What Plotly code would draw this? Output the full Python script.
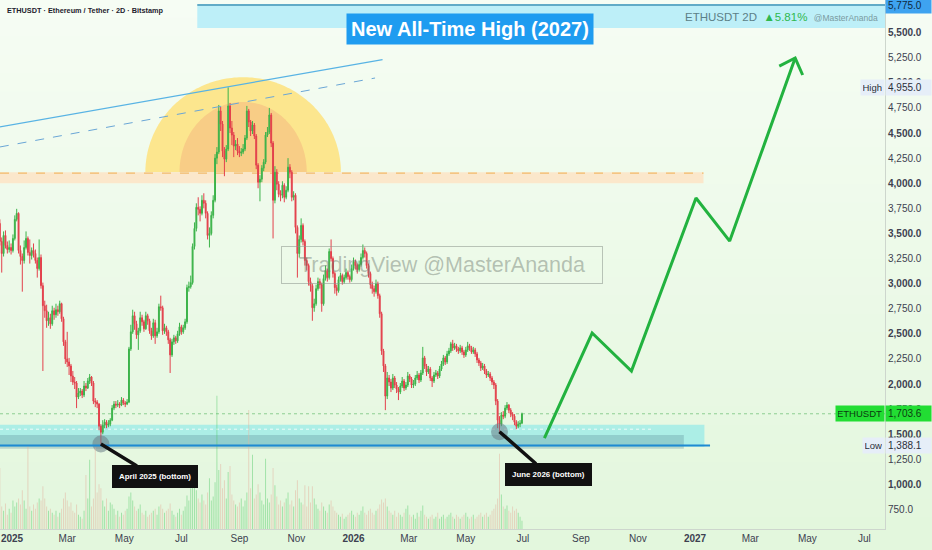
import numpy as np
import pandas as pd
import plotly.graph_objects as go

# ---------------- data (2D candles, ETHUSDT Bitstamp) ----------------
start_date = "2024-12-19"

opens = [3600, 3420, 3300, 3480, 3380, 3340, 3360, 3330, 3450, 3640,
         3700, 3330, 3270, 3230, 3360, 3450, 3310, 3280, 3330, 3300,
         3230, 3150, 3260, 2980, 2780, 2730, 2630, 2660, 2600, 2730,
         2690, 2740, 2720, 2800, 2650, 2420, 2250, 2220, 2180, 2080,
         2020, 2010, 1870, 1910, 1930, 1890, 1980, 1960, 2030, 2070,
         2010, 1830, 1820, 1800, 1580, 1520, 1590, 1620, 1590, 1600,
         1640, 1760, 1800, 1790, 1800, 1790, 1840, 1810, 1800, 1820,
         2350, 2520, 2680, 2600, 2490, 2530, 2660, 2620, 2550, 2680,
         2630, 2530, 2480, 2610, 2480, 2520, 2770, 2760, 2530, 2560,
         2520, 2440, 2290, 2420, 2460, 2430, 2500, 2570, 2520, 2560,
         2620, 2960, 2970, 3010, 3370, 3550, 3760, 3740, 3700, 3830,
         3800, 3700, 3480, 3500, 3680, 3830, 4250, 4310, 4720, 4590,
         4320, 4240, 4340, 4770, 4550, 4480, 4370, 4390, 4320, 4300,
         4310, 4340, 4450, 4720, 4610, 4520, 4580, 4470, 4180, 4010,
         4040, 4150, 4210, 4480, 4510, 4680, 4400, 3830, 4110, 3990,
         3890, 3880, 3980, 3860, 3930, 4160, 4110, 3860, 3880, 3560,
         3300, 3440, 3580, 3420, 3230, 3180, 3020, 2980, 2760, 2800,
         2950, 3020, 2990, 2800, 3050, 3130, 3060, 3320, 3250, 3100,
         2960, 2930, 3040, 3080, 3020, 3060, 3110, 3070, 3040, 3150,
         3220, 3180, 3140, 3190, 3260, 3330, 3300, 3180, 3100, 2990,
         2950, 2920, 3000, 2880, 2700, 2330, 2180, 1880, 2060, 2020,
         1960, 2060, 1990, 1950, 1920, 1980, 2030, 1960, 1990, 2080,
         2050, 1990, 2000, 2060, 2090, 2040, 2110, 2260, 2180, 2120,
         2150, 2060, 2030, 2090, 2110, 2080, 2150, 2200, 2260, 2220,
         2300, 2330, 2400, 2360, 2380, 2350, 2330, 2360, 2320, 2290,
         2340, 2380, 2360, 2320, 2340, 2300, 2240, 2210, 2160, 2180,
         2130, 2090, 2100, 2060, 2020, 1990, 1830, 1640, 1600, 1690,
         1680, 1760, 1790, 1740, 1700, 1680, 1620, 1580, 1600, 1610.1]

highs = [3640, 3460, 3520, 3530, 3420, 3430, 3400, 3490, 3680, 3745,
         3710, 3380, 3300, 3430, 3520, 3470, 3440, 3360, 3400, 3340,
         3260, 3440, 3290, 3010, 2830, 2790, 2720, 2700, 2780, 2760,
         2800, 2780, 2830, 2810, 2670, 2440, 2520, 2260, 2200, 2130,
         2070, 2030, 1960, 1960, 1950, 2030, 2010, 2060, 2100, 2080,
         2030, 1860, 1840, 1810, 1600, 1640, 1650, 1640, 1640, 1660,
         1790, 1830, 1830, 1840, 1820, 1870, 1860, 1830, 1850, 2370,
         2590, 2740, 2720, 2630, 2560, 2720, 2690, 2640, 2720, 2700,
         2650, 2560, 2650, 2640, 2560, 2800, 2880, 2780, 2600, 2580,
         2540, 2460, 2450, 2490, 2480, 2530, 2610, 2590, 2590, 2650,
         2990, 3020, 3080, 3400, 3610, 3800, 3860, 3770, 3880, 3900,
         3830, 3720, 3560, 3720, 3880, 4290, 4360, 4780, 4760, 4620,
         4360, 4380, 4955, 4800, 4620, 4510, 4430, 4450, 4370, 4350,
         4390, 4480, 4770, 4740, 4630, 4620, 4600, 4490, 4200, 4080,
         4180, 4240, 4510, 4560, 4750, 4700, 4420, 4170, 4140, 4020,
         3930, 4020, 4000, 3970, 4250, 4190, 4130, 3920, 3900, 3580,
         3480, 3650, 3600, 3440, 3260, 3200, 3060, 3000, 2850, 2990,
         3060, 3050, 3010, 3090, 3180, 3150, 3350, 3440, 3270, 3120,
         2990, 3070, 3110, 3100, 3090, 3150, 3130, 3090, 3190, 3260,
         3240, 3200, 3230, 3300, 3390, 3360, 3320, 3200, 3120, 3020,
         2980, 3040, 3020, 2900, 2720, 2350, 2200, 2120, 2090, 2050,
         2100, 2080, 2020, 1970, 2010, 2070, 2050, 2020, 2120, 2100,
         2070, 2040, 2090, 2130, 2110, 2140, 2370, 2280, 2200, 2180,
         2170, 2080, 2120, 2140, 2130, 2180, 2230, 2290, 2280, 2330,
         2360, 2420, 2440, 2410, 2400, 2370, 2390, 2380, 2340, 2370,
         2420, 2400, 2380, 2370, 2360, 2320, 2260, 2230, 2210, 2200,
         2150, 2130, 2120, 2080, 2040, 2010, 1850, 1680, 1720, 1730,
         1790, 1820, 1800, 1760, 1720, 1700, 1640, 1630, 1640, 1715]

lows = [3380, 3110, 3270, 3350, 3300, 3310, 3290, 3310, 3430, 3620,
        3300, 3190, 2920, 3200, 3340, 3280, 3200, 3240, 3260, 3200,
        3060, 3130, 2950, 2130, 2660, 2560, 2580, 2550, 2580, 2640,
        2660, 2680, 2700, 2620, 2380, 2200, 2170, 2090, 2020, 1990,
        1950, 1760, 1850, 1880, 1860, 1870, 1930, 1950, 2000, 1980,
        1800, 1770, 1760, 1540, 1388.1, 1500, 1560, 1560, 1570, 1580,
        1630, 1740, 1760, 1770, 1760, 1780, 1790, 1770, 1790, 1810,
        2330, 2500, 2540, 2450, 2340, 2510, 2580, 2520, 2540, 2590,
        2500, 2440, 2460, 2400, 2460, 2500, 2730, 2490, 2500, 2480,
        2400, 2110, 2270, 2390, 2400, 2410, 2480, 2490, 2500, 2540,
        2600, 2920, 2950, 2990, 3340, 3520, 3680, 3620, 3680, 3750,
        3650, 3440, 3360, 3480, 3650, 3810, 4190, 4290, 4520, 4260,
        4070, 4210, 4320, 4500, 4380, 4260, 4330, 4280, 4260, 4270,
        4290, 4320, 4430, 4560, 4470, 4490, 4440, 4140, 3950, 3820,
        4010, 4120, 4190, 4460, 4490, 4360, 3450, 3800, 3930, 3860,
        3820, 3850, 3810, 3840, 3910, 4050, 3820, 3830, 3500, 3060,
        3260, 3410, 3380, 3180, 3130, 2980, 2920, 2630, 2720, 2780,
        2930, 2950, 2720, 2780, 3030, 3020, 3040, 3220, 3060, 2900,
        2880, 2910, 3020, 2990, 3000, 3040, 3040, 3010, 3020, 3130,
        3140, 3100, 3120, 3170, 3240, 3260, 3150, 3060, 2950, 2900,
        2870, 2900, 2850, 2660, 2290, 2120, 1740, 1850, 1980, 1920,
        1940, 1960, 1910, 1840, 1900, 1960, 1930, 1940, 1970, 2020,
        1960, 1960, 1980, 2040, 2010, 2020, 2090, 2150, 2080, 2100,
        2030, 1970, 2010, 2070, 2050, 2060, 2130, 2180, 2190, 2200,
        2280, 2310, 2330, 2340, 2320, 2300, 2310, 2290, 2260, 2270,
        2320, 2330, 2300, 2300, 2270, 2210, 2180, 2130, 2140, 2100,
        2060, 2070, 2030, 1990, 1950, 1790, 1560, 1510, 1580, 1650,
        1660, 1740, 1710, 1670, 1640, 1590, 1550, 1560, 1570, 1600]

closes = [3420, 3300, 3480, 3380, 3340, 3360, 3330, 3450, 3640, 3700,
          3330, 3270, 3230, 3360, 3450, 3310, 3280, 3330, 3300, 3230,
          3150, 3260, 2980, 2780, 2730, 2630, 2660, 2600, 2730, 2690,
          2740, 2720, 2800, 2650, 2420, 2250, 2220, 2180, 2080, 2020,
          2010, 1870, 1910, 1930, 1890, 1980, 1960, 2030, 2070, 2010,
          1830, 1820, 1800, 1580, 1520, 1590, 1620, 1590, 1600, 1640,
          1760, 1800, 1790, 1800, 1790, 1840, 1810, 1800, 1820, 2350,
          2520, 2680, 2600, 2490, 2530, 2660, 2620, 2550, 2680, 2630,
          2530, 2480, 2610, 2480, 2520, 2770, 2760, 2530, 2560, 2520,
          2440, 2290, 2420, 2460, 2430, 2500, 2570, 2520, 2560, 2620,
          2960, 2970, 3010, 3370, 3550, 3760, 3740, 3700, 3830, 3800,
          3700, 3480, 3500, 3680, 3830, 4250, 4310, 4720, 4590, 4320,
          4240, 4340, 4770, 4550, 4480, 4370, 4390, 4320, 4300, 4310,
          4340, 4450, 4720, 4610, 4520, 4580, 4470, 4180, 4010, 4040,
          4150, 4210, 4480, 4510, 4680, 4400, 3830, 4110, 3990, 3890,
          3880, 3980, 3860, 3930, 4160, 4110, 3860, 3880, 3560, 3300,
          3440, 3580, 3420, 3230, 3180, 3020, 2980, 2760, 2800, 2950,
          3020, 2990, 2800, 3050, 3130, 3060, 3320, 3250, 3100, 2960,
          2930, 3040, 3080, 3020, 3060, 3110, 3070, 3040, 3150, 3220,
          3180, 3140, 3190, 3260, 3330, 3300, 3180, 3100, 2990, 2950,
          2920, 3000, 2880, 2700, 2330, 2180, 1880, 2060, 2020, 1960,
          2060, 1990, 1950, 1920, 1980, 2030, 1960, 1990, 2080, 2050,
          1990, 2000, 2060, 2090, 2040, 2110, 2260, 2180, 2120, 2150,
          2060, 2030, 2090, 2110, 2080, 2150, 2200, 2260, 2220, 2300,
          2330, 2400, 2360, 2380, 2350, 2330, 2360, 2320, 2290, 2340,
          2380, 2360, 2320, 2340, 2300, 2240, 2210, 2160, 2180, 2130,
          2090, 2100, 2060, 2020, 1990, 1830, 1640, 1600, 1690, 1680,
          1760, 1790, 1740, 1700, 1680, 1620, 1580, 1600, 1610.1, 1703.6]

volumes = [60, 22, 18, 25, 14, 20, 16, 28, 22, 26,
           30, 24, 38, 28, 20, 82, 22, 18, 24, 20,
           26, 30, 28, 42, 30, 22, 18, 20, 16, 14,
           18, 12, 16, 20, 30, 36, 28, 22, 26, 18,
           16, 24, 14, 12, 10, 18, 53, 30, 68, 22,
           30, 80, 36, 44, 40, 28, 22, 30, 18, 26,
           24, 20, 14, 18, 12, 16, 14, 18, 20, 32,
           36, 28, 22, 18, 20, 24, 16, 14, 18, 12,
           14, 16, 18, 20, 14, 22, 24, 20, 16, 18,
           20, 25, 18, 14, 12, 16, 20, 14, 18, 22,
           33, 28, 40, 45, 50, 38, 30, 26, 34, 28,
           24, 36, 50, 28, 32, 46, 131, 58, 64, 40,
           48, 30, 56, 62, 34, 28, 24, 22, 26, 30,
           22, 28, 36, 117, 40, 73, 30, 34, 44, 36,
           28, 24, 69, 30, 26, 34, 60, 43, 32, 24,
           28, 22, 26, 30, 36, 24, 28, 22, 38, 48,
           30, 26, 24, 43, 22, 42, 26, 42, 30, 24,
           20, 18, 26, 22, 18, 16, 24, 28, 22, 18,
           16, 14, 12, 15, 10, 12, 14, 16, 18, 14,
           12, 16, 14, 18, 22, 16, 14, 18, 20, 16,
           14, 18, 20, 24, 29, 26, 30, 22, 18, 16,
           14, 18, 12, 16, 14, 12, 16, 20, 23, 14,
           12, 14, 10, 16, 12, 18, 23, 14, 12, 10,
           12, 14, 10, 12, 16, 10, 12, 14, 10, 12,
           14, 16, 12, 10, 14, 12, 10, 12, 14, 16,
           12, 10, 12, 14, 10, 12, 14, 16, 12, 14,
           16, 12, 14, 18, 20, 24, 30, 74, 34, 22,
           20, 23, 18, 16, 22, 18, 20, 16, 12, 8]

# projected path (green zig-zag) and its arrow head
proj_dates = ["2026-07-24", "2026-09-13", "2026-10-25", "2027-01-02", "2027-02-07", "2027-04-18"]
proj_prices = [1462, 2508, 2129, 3853, 3424, 5247]
arrow_dates = ["2027-04-01", "2027-04-18", "2027-04-26"]
arrow_prices = [5167, 5247, 5078]

# drawn levels
ath_line = 5775
ath_banner = [5546, 5765]
resist_zone = [4000, 4110]
resist_line = 4100
support_zone = [1375, 1595]
support_dark = [1355, 1492]
support_line = 1388.1
support_dots = 1550
trend_solid = [("2024-12-19", 4560), ("2026-02-01", 5232)]
trend_dashed = [("2024-12-19", 4361), ("2026-01-24", 5048)]
dome_center = "2025-09-05"
dome_base = 4110
dome_outer = (104.5, 946)   # (days, price)
dome_inner = (68.0, 700)

# axes
x_range = ["2024-12-19 04:00", "2027-07-23"]
y_range = [556, 5825]
xtick_dates = ["2025-01-01", "2025-03-01", "2025-05-01", "2025-07-01", "2025-09-01", "2025-11-01",
               "2026-01-01", "2026-03-01", "2026-05-01", "2026-07-01", "2026-09-01", "2026-11-01",
               "2027-01-01", "2027-03-01", "2027-05-01", "2027-07-01"]
xtick_text = ["<b>2025</b>", "Mar", "May", "Jul", "Sep", "Nov",
              "<b>2026</b>", "Mar", "May", "Jul", "Sep", "Nov",
              "<b>2027</b>", "Mar", "May", "Jul"]
ytick_vals = [750, 1000, 1250, 1500, 1750, 2000, 2250, 2500, 2750, 3000, 3250,
              3500, 3750, 4000, 4250, 4500, 4750, 5000, 5250, 5500]
ytick_text = ["750.0", "<b>1,000.0</b>", "1,250.0", "<b>1,500.0</b>", "1,750.0", "<b>2,000.0</b>",
              "2,250.0", "<b>2,500.0</b>", "2,750.0", "<b>3,000.0</b>", "3,250.0", "<b>3,500.0</b>",
              "3,750.0", "<b>4,000.0</b>", "4,250.0", "<b>4,500.0</b>", "4,750.0", "<b>5,000.0</b>",
              "5,250.0", "<b>5,500.0</b>"]

# ---------------- figure ----------------
FONT = "Liberation Sans, Arial, Helvetica, sans-serif"
dates = pd.date_range(start_date, periods=len(closes), freq="2D")
UP, DOWN = "#3cb34a", "#e3404c"
DAY_MS = 86400000

fig = go.Figure()

# volume
vol_colors = ["rgba(70,200,95,0.45)" if cl >= op else "rgba(228,180,160,0.55)"
              for op, cl in zip(opens, closes)]
fig.add_trace(go.Bar(x=dates, y=volumes, yaxis="y2", marker=dict(color=vol_colors, line_width=0),
                     width=DAY_MS * 1.0, hoverinfo="skip"))

# candles
fig.add_trace(go.Candlestick(x=dates, open=opens, high=highs, low=lows, close=closes,
                             increasing=dict(line=dict(color=UP, width=1), fillcolor=UP),
                             decreasing=dict(line=dict(color=DOWN, width=1), fillcolor=DOWN),
                             whiskerwidth=0, hoverinfo="skip"))

# projection
fig.add_trace(go.Scatter(x=proj_dates, y=proj_prices, mode="lines",
                         line=dict(color="#22b23f", width=3), hoverinfo="skip"))
fig.add_trace(go.Scatter(x=arrow_dates, y=arrow_prices, mode="lines",
                         line=dict(color="#22b23f", width=3), hoverinfo="skip"))

# bottom markers
bottom_idx = [54, 267]
fig.add_trace(go.Scatter(x=[dates[i] for i in bottom_idx], y=[lows[i] + 15 for i in bottom_idx],
                         mode="markers", marker=dict(size=17, color="rgba(105,125,135,0.55)"),
                         hoverinfo="skip"))

x_end = x_range[1]
x0 = x_range[0]
shapes = []
# soft vertical background gradient
top, bot = np.array([246, 253, 244]), np.array([227, 247, 221])
n = 30
for k in range(n):
    f = k / (n - 1)
    r, g, b = (top + (bot - top) * f).astype(int)
    shapes.append(dict(type="rect", xref="paper", yref="paper", x0=-0.01, x1=1.07,
                       y0=1.0 - (k + 1) * 1.05 / n, y1=1.0 - k * 1.05 / n + 0.002,
                       fillcolor=f"rgb({r},{g},{b})", line_width=0, layer="below"))

# dome (semicircle highlight) as below-layer paths, so candles stay on top
t = np.linspace(0, np.pi, 120)
c_ms = pd.Timestamp(dome_center).value / 1e6
for (rx, ry), col in [(dome_outer, "#fce68e"), (dome_inner, "#f8cd86")]:
    xs = c_ms + rx * DAY_MS * np.cos(t)
    ys = dome_base + ry * np.sin(t)
    path = "M " + " L ".join(f"{x:.0f},{y:.1f}" for x, y in zip(xs, ys)) + " Z"
    shapes.append(dict(type="path", xref="x", yref="y", path=path, fillcolor=col,
                       line_width=0, layer="below"))

shapes += [
    # ATH banner + line
    dict(type="rect", x0="2025-07-18", x1=x_end, y0=ath_banner[0], y1=ath_banner[1],
         fillcolor="#bdeff8", line_width=0, layer="below"),
    dict(type="line", x0="2025-07-18", x1=x_end, y0=ath_line, y1=ath_line,
         line=dict(color="#2f8fb8", width=1.5)),
    # resistance band
    dict(type="rect", x0=x0, x1="2027-01-10", y0=resist_zone[0], y1=resist_zone[1],
         fillcolor="#fbe7cb", line_width=0, layer="below"),
    dict(type="line", x0=x0, x1="2027-01-10", y0=resist_line, y1=resist_line,
         line=dict(color="#f2bb6c", width=1.2, dash="dash"), layer="below"),
    # support zones
    dict(type="rect", x0=x0, x1="2027-01-11", y0=support_zone[0], y1=support_zone[1],
         fillcolor="rgba(80,222,238,0.38)", line_width=0, layer="below"),
    dict(type="rect", x0=x0, x1="2026-12-20", y0=support_dark[0], y1=support_dark[1],
         fillcolor="rgba(85,135,150,0.30)", line_width=0, layer="below"),
    dict(type="line", x0=x0, x1="2026-11-18", y0=support_dots, y1=support_dots,
         line=dict(color="rgba(255,255,255,0.8)", width=1, dash="dot"), layer="below"),
    dict(type="line", x0=x0, x1="2027-01-17", y0=support_line, y1=support_line,
         line=dict(color="#1f8ad2", width=2)),
    # last price line
    dict(type="line", xref="x", x0=x0, x1=x_end, y0=closes[-1], y1=closes[-1],
         line=dict(color="rgba(70,170,80,0.55)", width=1, dash="dot"), layer="below"),
    # trend lines
    dict(type="line", x0=trend_solid[0][0], y0=trend_solid[0][1], x1=trend_solid[1][0],
         y1=trend_solid[1][1], line=dict(color="#58b3e4", width=1.2)),
    dict(type="line", x0=trend_dashed[0][0], y0=trend_dashed[0][1], x1=trend_dashed[1][0],
         y1=trend_dashed[1][1], line=dict(color="#6aa6d6", width=1, dash="dash")),
]

ann = []
# header
ann.append(dict(xref="paper", yref="paper", x=0.006, y=0.981, xanchor="left", yanchor="middle",
                text="<b>ETHUSDT · Ethereum / Tether · 2D · Bitstamp</b>", showarrow=False,
                font=dict(size=7.3, color="#1e222d")))
ann.append(dict(xref="paper", yref="y", x=0.994, y=5656, xanchor="right", yanchor="middle",
                text="<span style='color:#5c8087'>ETHUSDT 2D</span>  "
                     "<span style='color:#2fb84e'>▲5.81%</span>  "
                     "<span style='font-size:8.5px;color:#7a9aa0'>@MasterAnanda</span>",
                showarrow=False, font=dict(size=11.5)))
ann.append(dict(x="2026-05-05", y=5536, text="<b>New All-Time High (2027)</b>", showarrow=False,
                bgcolor="#1f9cf0", borderpad=4, font=dict(size=20, color="white")))
# watermark
ann.append(dict(x="2026-04-06", y=3190, text="TradingView @MasterAnanda", showarrow=False,
                font=dict(size=21.5, color="rgba(110,120,110,0.45)"),
                bordercolor="rgba(140,150,140,0.55)", borderwidth=1, borderpad=6, width=308))
# callouts
for i, txt, ax, ay in [(54, "April 2025 (bottom)", 54, 33), (267, "June 2026 (bottom)", 49, 43)]:
    ann.append(dict(x=dates[i], y=lows[i] + 15, text=f"<b>{txt}</b>", showarrow=True,
                    ax=ax, ay=ay, arrowhead=0, arrowwidth=3.5, arrowcolor="#111111", standoff=0,
                    bgcolor="#111111", bordercolor="#111111", borderpad=6,
                    font=dict(size=7.9, color="white")))
# price-scale labels
def scale_label(y, text, bg, color, left_text=None, left_w=None):
    out = [dict(xref="paper", yref="y", x=1.0, y=y, xanchor="left", yanchor="middle",
                text=text, showarrow=False, bgcolor=bg, borderpad=2, width=41, align="left",
                font=dict(size=10, color=color))]
    if left_text:
        out.append(dict(xref="paper", yref="y", x=1.0, y=y, xanchor="right", yanchor="middle",
                        text=left_text, showarrow=False, bgcolor=bg, borderpad=2, width=left_w,
                        align="right", font=dict(size=9.5, color=color)))
    return out

ann += scale_label(ath_line, "5,775.0", "#3ea3f0", "#0f2a40")
ann += scale_label(max(highs), f"{max(highs):,.1f}", "#e6eef8", "#2a2e39", "High", 19)
ann += scale_label(closes[-1], f"{closes[-1]:,.1f}", "#22dd33", "#0b3b10", "ETHUSDT", 44)
ann += scale_label(min(lows), f"{min(lows):,.1f}", "#e6eef8", "#2a2e39", "Low", 17)

fig.update_layout(
    width=932, height=550,
    margin=dict(l=0, r=47, t=0, b=21),
    paper_bgcolor="#e6f8e1", plot_bgcolor="rgba(0,0,0,0)",
    showlegend=False, hovermode=False,
    font=dict(family=FONT),
    shapes=shapes, annotations=ann,
    xaxis=dict(type="date", range=x_range, rangeslider=dict(visible=False), showgrid=False,
               zeroline=False, tickmode="array", tickvals=xtick_dates, ticktext=xtick_text,
               tickfont=dict(size=10, color="#3d4150"), showline=True, linecolor="#cdd6cd",
               ticks=""),
    yaxis=dict(side="right", range=y_range, showgrid=False, zeroline=False, tickmode="array",
               tickvals=ytick_vals, ticktext=ytick_text, tickfont=dict(size=10, color="#3d4150"),
               showline=True, linecolor="#cdd6cd", ticks=""),
    yaxis2=dict(overlaying="y", range=[0, 520], visible=False, fixedrange=True),
)

fig.write_html("out.html", config={"displayModeBar": False, "staticPlot": True},
               post_script="document.body.style.margin='0px';document.body.style.padding='0px';"
                           "document.body.style.overflow='hidden';")
